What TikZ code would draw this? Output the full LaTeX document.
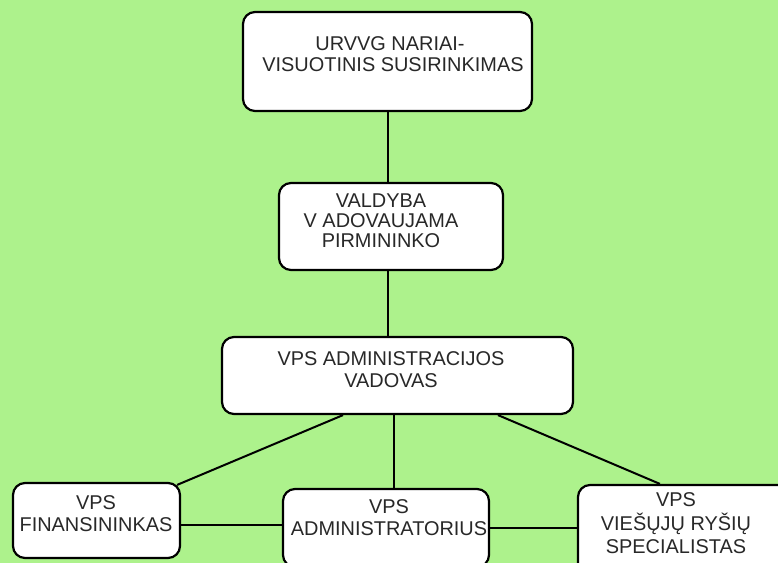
\documentclass[tikz,border=0pt]{standalone}
\usepackage{fontspec}
\setmainfont{Liberation Sans}
\usetikzlibrary{calc}
\definecolor{bggreen}{RGB}{173,242,140}
\definecolor{txtgray}{RGB}{40,40,40}
\tikzset{
  orgbox/.style={draw=black, fill=white, line width=2.2bp, rounded corners=12bp, inner sep=0pt},
  orgtext/.style={inner sep=0pt, align=center, text=txtgray, font=\fontsize{20}{21.5}\selectfont},
  conn/.style={draw=black, line width=2bp}
}
\begin{document}
\begin{tikzpicture}[x=1bp, y=-1bp]
\useasboundingbox (0,0) rectangle (778,563);
\fill[bggreen] (0,0) rectangle (778,563);
\clip (0,0) rectangle (778,563);
% boxes
\node[orgbox, minimum width=289bp, minimum height=99bp] (b1) at (387.5,61.5) {};
\node[orgbox, minimum width=224bp, minimum height=87bp] (b2) at (391,226.5) {};
\node[orgbox, minimum width=351bp, minimum height=77bp] (b3) at (397.5,375.5) {};
\node[orgbox, minimum width=167bp, minimum height=75bp] (b4) at (96.5,520.5) {};
\node[orgbox, minimum width=206bp, minimum height=78bp] (b5) at (386,528) {};
\node[orgbox, minimum width=222bp, minimum height=90bp] (b6) at (689,530) {};
% texts
\node[orgtext] (t1) at (390,54) {URVVG NARIAI-\hspace{6bp}\\\hspace{6bp}VISUOTINIS SUSIRINKIMAS};
\node[orgtext, font=\fontsize{20}{20}\selectfont] (t2) at (381,221) {VALDYBA\\V ADOVAUJAMA\\PIRMININKO};
\node[orgtext] (t3) at (391,369.5) {VPS ADMINISTRACIJOS\\VADOVAS};
\node[orgtext] (t4) at (96,513.5) {VPS\\FINANSININKAS};
\node[orgtext] (t5) at (389,517.5) {VPS\\ADMINISTRATORIUS};
\node[orgtext, font=\fontsize{20}{23.5}\selectfont] (t6) at (676,523.5) {VPS\\VIEŠŲJŲ RYŠIŲ\\SPECIALISTAS};
% connectors
\draw[conn] (b1.south) -- (b1.south |- b2.north);
\draw[conn] ([xshift=-3bp]b2.south) -- ([xshift=-3bp]b2.south |- b3.north);
\draw[conn] ([xshift=-54.5bp]b3.south) -- ([xshift=-4bp,yshift=-3bp]b4.north east);
\draw[conn] ([xshift=-3.5bp]b3.south) -- ([xshift=-3.5bp]b3.south |- b5.north);
\draw[conn] ([xshift=100.5bp]b3.south) -- ([xshift=83bp]b6.north west);
\draw[conn] ([yshift=-4.5bp]b4.east) -- ([yshift=-4.5bp]b4.east -| b5.west);
\draw[conn] (b5.east) -- (b5.east -| b6.west);
\end{tikzpicture}
\end{document}
